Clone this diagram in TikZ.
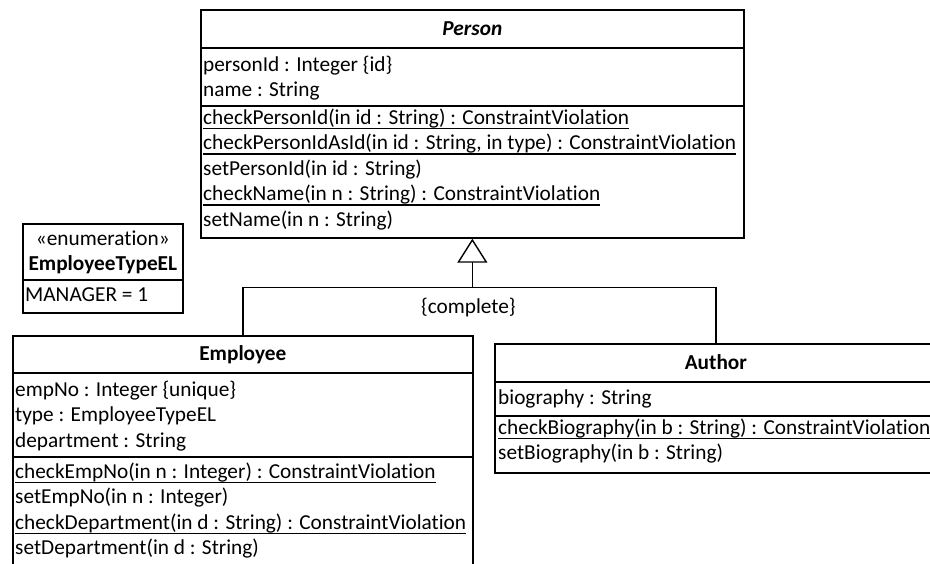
\documentclass[tikz,border=0pt]{standalone}
\usepackage{fontspec}
\setmainfont[Ligatures=NoCommon]{Carlito}
\usetikzlibrary{arrows.meta,positioning}

\newcommand{\umlfont}{\fontsize{21.3}{25.5}\selectfont}
% class-scope operations get a heavy underline
\newsavebox{\opbox}
\newcommand{\staticop}[1]{\sbox{\opbox}{#1}\rlap{\rule[-5pt]{\wd\opbox}{1.5pt}}\usebox{\opbox}}

\begin{document}
\begin{tikzpicture}[x=1pt, y=-1pt,
  classbox/.style={draw, line width=1.7pt, anchor=north west, inner sep=0pt},
  classname/.style={font=\umlfont\bfseries, inner sep=0pt, align=center},
  members/.style={font=\umlfont, inner sep=0pt, align=left},
  compartment/.style={line width=1.7pt},
  genline/.style={line width=1.4pt},
  node distance=8pt and 3pt
]
\useasboundingbox (0,0) rectangle (930,563);
\clip (0,0) rectangle (930,563);

%% Person (abstract)
\node[classbox, minimum width=543pt, minimum height=228pt] (person) at (200,9) {};
\node[classname, below=8pt of person.north] (person-name) {\strut\textit{Person}};
\draw[compartment] ([yshift=-39pt]person.north west) -- ([yshift=-39pt]person.north east);
\draw[compartment] ([yshift=-97pt]person.north west) -- ([yshift=-97pt]person.north east);
\node[members, below right=44pt and 3pt of person.north west] (person-attr)
  {\strut personId : Integer \{id\}\\
   \strut name : String};
\node[members, below right=97pt and 3pt of person.north west] (person-ops)
  {\strut\staticop{checkPersonId(in id : String) : ConstraintViolation}\\
   \strut\staticop{checkPersonIdAsId(in id : String, in type) : ConstraintViolation}\\
   \strut setPersonId(in id : String)\\
   \strut\staticop{checkName(in n : String) : ConstraintViolation}\\
   \strut setName(in n : String)};

%% Enumeration
\node[classbox, minimum width=160pt, minimum height=89pt] (emptype) at (22,223) {};
\node[classname, below=4pt of emptype.north] (emptype-name)
  {\strut{\mdseries «enumeration»}\\ \strut EmployeeTypeEL};
\draw[compartment] ([yshift=-57pt]emptype.north west) -- ([yshift=-57pt]emptype.north east);
\node[members, below right=60pt and 3pt of emptype.north west] (emptype-lit) {\strut MANAGER = 1};

%% Employee
\node[classbox, minimum width=460pt, minimum height=245pt] (employee) at (12,335) {};
\node[classname, below=7pt of employee.north] (employee-name) {\strut Employee};
\draw[compartment] ([yshift=-38pt]employee.north west) -- ([yshift=-38pt]employee.north east);
\draw[compartment] ([yshift=-122pt]employee.north west) -- ([yshift=-122pt]employee.north east);
\node[members, below right=43pt and 3pt of employee.north west] (employee-attr)
  {\strut empNo : Integer \{unique\}\\
   \strut type : EmployeeTypeEL\\
   \strut department : String};
\node[members, below right=125pt and 3pt of employee.north west] (employee-ops)
  {\strut\staticop{checkEmpNo(in n : Integer) : ConstraintViolation}\\
   \strut setEmpNo(in n : Integer)\\
   \strut\staticop{checkDepartment(in d : String) : ConstraintViolation}\\
   \strut setDepartment(in d : String)};

%% Author
\node[classbox, minimum width=442pt, minimum height=129pt] (author) at (494,343) {};
\node[classname, below=8pt of author.north] (author-name) {\strut Author};
\draw[compartment] ([yshift=-39pt]author.north west) -- ([yshift=-39pt]author.north east);
\draw[compartment] ([yshift=-73pt]author.north west) -- ([yshift=-73pt]author.north east);
\node[members, below right=43pt and 4pt of author.north west] (author-attr)
  {\strut biography : String};
\node[members, below right=73pt and 4pt of author.north west] (author-ops)
  {\strut\staticop{checkBiography(in b : String) : ConstraintViolation}\\
   \strut setBiography(in b : String)};

%% Generalization set
\coordinate[below=49pt of person.south] (split);
\draw[genline] (employee.north) |- (split) -| (author.north);
\draw[genline, -{Triangle[open, length=24pt, width=30pt]}] (split) -- (person.south);
\node[members, below=8pt of split, xshift=-4pt] (complete) {\strut\{complete\}};

\end{tikzpicture}
\end{document}
